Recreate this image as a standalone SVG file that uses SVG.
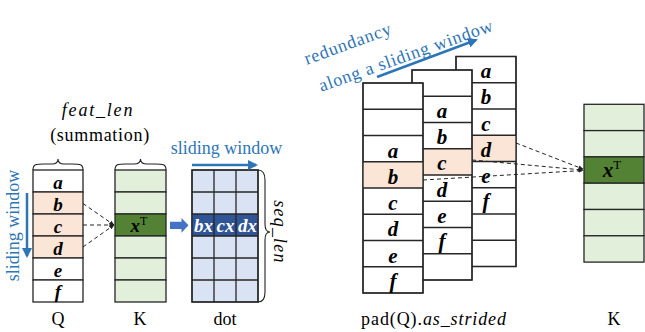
<svg xmlns="http://www.w3.org/2000/svg" width="645" height="332" viewBox="0 0 645 332" font-family="Liberation Serif, serif">
  <defs>
    <marker id="dashHead" viewBox="0 0 6 6" refX="5.5" refY="3" markerWidth="5" markerHeight="5" orient="auto" markerUnits="userSpaceOnUse">
      <path d="M0,0.5 L6,3 L0,5.5 Z" fill="#222"/>
    </marker>
    <marker id="blueHead" viewBox="0 0 10 10" refX="8" refY="5" markerWidth="10" markerHeight="10" orient="auto" markerUnits="userSpaceOnUse">
      <path d="M0,0 L10,5 L0,10 Z" fill="#2e75b6"/>
    </marker>
    <style>
      text { font-family: 'Liberation Serif', serif; }
      .cell { stroke: #262626; stroke-width: 1.3; }
      .white { fill: #ffffff; }
      .peach { fill: #fbe5d6; }
      .lgreen { fill: #e2efda; }
      .dgreen { fill: #548235; }
      .lblue { fill: #dae3f3; }
      .dblue { fill: #2f5597; }
      .let { font-weight: bold; font-style: italic; font-size: 19px; fill: #000; text-anchor: middle; }
      .big { font-size: 21px; }
      .wlet { fill: #ffffff; font-size: 19px; }
      .lab { font-size: 18px; fill: #000; text-anchor: middle; }
      .it { font-style: italic; }
      .blue { fill: #2e75b6; }
      .dash { stroke: #222; stroke-width: 1; stroke-dasharray: 4 3; fill: none; marker-end: url(#dashHead); }
      .brace { fill: none; stroke: #222; stroke-width: 1.1; }
      .barrow { stroke: #2e75b6; stroke-width: 2.5; fill: none; marker-end: url(#blueHead); }
    </style>
  </defs>

  <!-- Q column -->
  <g id="Q">
    <rect class="cell white" x="33" y="170" width="50" height="22"/>
    <rect class="cell peach" x="33" y="192" width="50" height="22"/>
    <rect class="cell peach" x="33" y="214" width="50" height="22"/>
    <rect class="cell peach" x="33" y="236" width="50" height="22"/>
    <rect class="cell white" x="33" y="258" width="50" height="22"/>
    <rect class="cell white" x="33" y="280" width="50" height="22"/>
    <text class="let" x="58" y="189">a</text>
    <text class="let" x="58" y="211">b</text>
    <text class="let" x="58" y="233">c</text>
    <text class="let" x="58" y="255">d</text>
    <text class="let" x="58" y="277">e</text>
    <text class="let" x="58" y="298">f</text>
    <path class="brace" d="M33,170 C33,164 36,164 44,164 L52,164 C56,164 58,162 58,159 C58,162 60,164 64,164 L72,164 C80,164 83,164 83,170"/>
    <text class="lab" x="58" y="325">Q</text>
  </g>

  <!-- K column (left) -->
  <g id="K1">
    <rect class="cell lgreen" x="115" y="170" width="51" height="22"/>
    <rect class="cell lgreen" x="115" y="192" width="51" height="22"/>
    <rect class="cell dgreen" x="115" y="214" width="51" height="22"/>
    <rect class="cell lgreen" x="115" y="236" width="51" height="22"/>
    <rect class="cell lgreen" x="115" y="258" width="51" height="22"/>
    <rect class="cell lgreen" x="115" y="280" width="51" height="22"/>
    <text class="let" x="139" y="232">x<tspan font-weight="normal" font-style="normal" font-size="12" dy="-7">T</tspan></text>
    <path class="brace" d="M115,170 C115,164 118,164 126,164 L134,164 C138,164 140.5,162 140.5,159 C140.5,162 143,164 147,164 L155,164 C163,164 166,164 166,170"/>
    <text class="lab" x="140" y="325">K</text>
  </g>

  <!-- dot result grid -->
  <g id="dot">
    <rect class="cell lblue" x="192" y="170" width="66" height="132"/>
    <rect class="dblue" x="192" y="214" width="66" height="22"/>
    <g class="cell" fill="none">
      <line x1="214" y1="170" x2="214" y2="302"/>
      <line x1="236" y1="170" x2="236" y2="302"/>
      <line x1="192" y1="192" x2="258" y2="192"/>
      <line x1="192" y1="214" x2="258" y2="214"/>
      <line x1="192" y1="236" x2="258" y2="236"/>
      <line x1="192" y1="258" x2="258" y2="258"/>
      <line x1="192" y1="280" x2="258" y2="280"/>
      <rect x="192" y="170" width="66" height="132"/>
    </g>
    <text class="let wlet" x="203.5" y="232">bx</text>
    <text class="let wlet" x="225.5" y="232">cx</text>
    <text class="let wlet" x="247.5" y="232">dx</text>
    <path class="brace" d="M258,170 C263,170 265,173 265,180 L265,224 C265,229 266,232 270,232 C266,232 265,235 265,240 L265,292 C265,299 263,302 258,302"/>
    <text class="lab it" transform="translate(274,232) rotate(90)" font-size="19" letter-spacing="1.2">seq_len</text>
    <text class="lab" x="225" y="325">dot</text>
  </g>

  <!-- headings of the left panel -->
  <g id="headings">
    <text class="lab it" x="98" y="116" font-size="19" letter-spacing="1.8">feat_len</text>
    <text class="lab" x="100" y="141" font-size="19" letter-spacing="0.7">(summation)</text>
    <text class="lab blue" x="226.5" y="154">sliding window</text>
    <text class="lab blue" transform="translate(19,225.5) rotate(-90)">sliding window</text>
  </g>

  <!-- padded, strided Q: three stacked windows (back to front) -->
  <g id="padQ3">
    <rect class="cell white" x="456" y="56.5" width="60" height="210"/>
    <rect class="peach" x="456" y="135.25" width="60" height="26.25"/>
    <g class="cell" fill="none">
      <line x1="456" y1="82.75" x2="516" y2="82.75"/>
      <line x1="456" y1="109" x2="516" y2="109"/>
      <line x1="456" y1="135.25" x2="516" y2="135.25"/>
      <line x1="456" y1="161.5" x2="516" y2="161.5"/>
      <line x1="456" y1="187.75" x2="516" y2="187.75"/>
      <line x1="456" y1="214" x2="516" y2="214"/>
      <line x1="456" y1="240.25" x2="516" y2="240.25"/>
      <rect x="456" y="56.5" width="60" height="210"/>
    </g>
    <text class="let big" x="486" y="78">a</text>
    <text class="let big" x="486" y="104">b</text>
    <text class="let big" x="486" y="130.5">c</text>
    <text class="let big" x="486" y="156.5">d</text>
    <text class="let big" x="486" y="183">e</text>
    <text class="let big" x="486" y="208">f</text>
  </g>
  <g id="padQ2">
    <rect class="cell white" x="412" y="70" width="60" height="210"/>
    <rect class="peach" x="412" y="148.75" width="60" height="26.25"/>
    <g class="cell" fill="none">
      <line x1="412" y1="96.25" x2="472" y2="96.25"/>
      <line x1="412" y1="122.5" x2="472" y2="122.5"/>
      <line x1="412" y1="148.75" x2="472" y2="148.75"/>
      <line x1="412" y1="175" x2="472" y2="175"/>
      <line x1="412" y1="201.25" x2="472" y2="201.25"/>
      <line x1="412" y1="227.5" x2="472" y2="227.5"/>
      <line x1="412" y1="253.75" x2="472" y2="253.75"/>
      <rect x="412" y="70" width="60" height="210"/>
    </g>
    <text class="let big" x="442" y="118">a</text>
    <text class="let big" x="442" y="144">b</text>
    <text class="let big" x="442" y="170">c</text>
    <text class="let big" x="442" y="196.5">d</text>
    <text class="let big" x="442" y="222.5">e</text>
    <text class="let big" x="442" y="248">f</text>
  </g>
  <g id="padQ1">
    <rect class="cell white" x="363" y="83" width="60" height="210"/>
    <rect class="peach" x="363" y="161.75" width="60" height="26.25"/>
    <g class="cell" fill="none">
      <line x1="363" y1="109.25" x2="423" y2="109.25"/>
      <line x1="363" y1="135.5" x2="423" y2="135.5"/>
      <line x1="363" y1="161.75" x2="423" y2="161.75"/>
      <line x1="363" y1="188" x2="423" y2="188"/>
      <line x1="363" y1="214.25" x2="423" y2="214.25"/>
      <line x1="363" y1="240.5" x2="423" y2="240.5"/>
      <line x1="363" y1="266.75" x2="423" y2="266.75"/>
      <rect x="363" y="83" width="60" height="210"/>
    </g>
    <text class="let big" x="393" y="157.5">a</text>
    <text class="let big" x="393" y="183.5">b</text>
    <text class="let big" x="393" y="210">c</text>
    <text class="let big" x="393" y="236">d</text>
    <text class="let big" x="393" y="262.5">e</text>
    <text class="let big" x="393" y="287.5">f</text>
    <text class="lab" x="434" y="325" font-size="19" letter-spacing="0.9">pad(Q).<tspan font-style="italic">as_strided</tspan></text>
  </g>

  <!-- K column (right) -->
  <g id="K2">
    <rect class="cell lgreen" x="584" y="104.3" width="60" height="26.3"/>
    <rect class="cell lgreen" x="584" y="130.6" width="60" height="26.3"/>
    <rect class="cell dgreen" x="584" y="156.9" width="60" height="26.3"/>
    <rect class="cell lgreen" x="584" y="183.2" width="60" height="26.3"/>
    <rect class="cell lgreen" x="584" y="209.5" width="60" height="26.3"/>
    <rect class="cell lgreen" x="584" y="235.8" width="60" height="26.3"/>
    <text class="let big" x="612" y="177">x<tspan font-weight="normal" font-style="normal" font-size="13" dy="-8">T</tspan></text>
    <text class="lab" x="614" y="325">K</text>
  </g>

  <!-- rotated heading of the right panel -->
  <g id="redundancy">
    <text class="lab blue" font-size="20" letter-spacing="0.8" transform="translate(350,49) rotate(-20)">redundancy</text>
    <text class="lab blue" font-size="20" letter-spacing="0.7" transform="translate(408,61) rotate(-19.5)">along a sliding window</text>
  </g>

  <!-- connectors -->
  <g id="connectors">
    <line class="dash" x1="83" y1="203.5" x2="114" y2="225"/>
    <line class="dash" x1="83" y1="225" x2="114" y2="225"/>
    <line class="dash" x1="83" y1="247" x2="114" y2="225"/>
    <line class="dash" x1="516" y1="143" x2="583" y2="169"/>
    <line class="dash" x1="472" y1="160" x2="583" y2="170"/>
    <line class="dash" x1="423" y1="180" x2="583" y2="170.5"/>
    <line class="barrow" x1="27" y1="193" x2="27" y2="256"/>
    <line class="barrow" x1="192" y1="165" x2="256" y2="165"/>
    <line class="barrow" x1="377" y1="77" x2="476" y2="40"/>
    <path d="M170,221.7 L181.5,221.7 L181.5,218 L188.5,225.3 L181.5,232.7 L181.5,229 L170,229 Z" fill="#4472c4"/>
  </g>
</svg>
